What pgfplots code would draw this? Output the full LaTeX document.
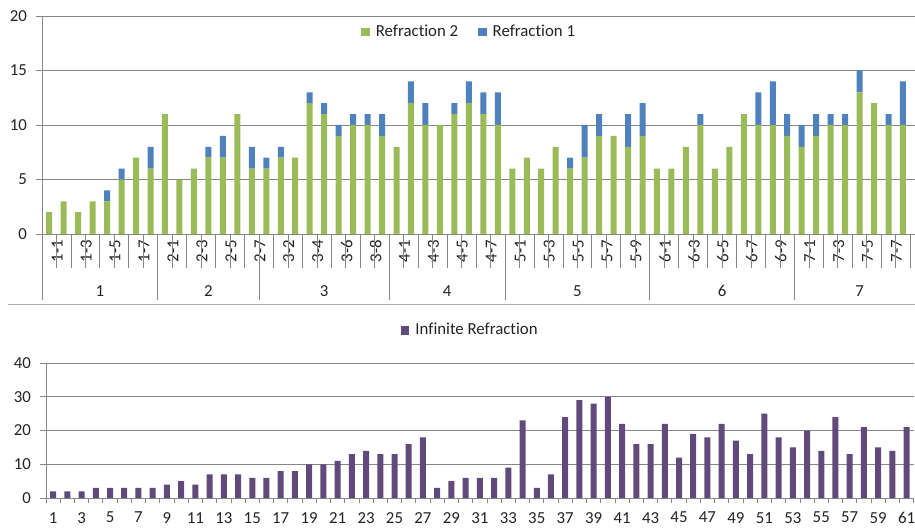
\documentclass[border=0pt]{standalone}
\usepackage{fontspec}
\setmainfont{Carlito}[Ligatures=NoCommon]
\usepackage{pgfplots}
\usepackage{pgfplotstable}
\pgfplotsset{compat=1.18}
\definecolor{rgreen}{RGB}{155,187,89}
\definecolor{rblue}{RGB}{79,129,189}
\definecolor{rpurple}{RGB}{95,74,123}
\definecolor{gridgray}{RGB}{134,134,134}
\definecolor{txt}{RGB}{35,35,35}

\pgfplotstableread{
idx g b
1 2 0
2 3 0
3 2 0
4 3 0
5 3 1
6 5 1
7 7 0
8 6 2
9 11 0
10 5 0
11 6 0
12 7 1
13 7 2
14 11 0
15 6 2
16 6 1
17 7 1
18 7 0
19 12 1
20 11 1
21 9 1
22 10 1
23 10 1
24 9 2
25 8 0
26 12 2
27 10 2
28 10 0
29 11 1
30 12 2
31 11 2
32 10 3
33 6 0
34 7 0
35 6 0
36 8 0
37 6 1
38 7 3
39 9 2
40 9 0
41 8 3
42 9 3
43 6 0
44 6 0
45 8 0
46 10 1
47 6 0
48 8 0
49 11 0
50 10 3
51 10 4
52 9 2
53 8 2
54 9 2
55 10 1
56 10 1
57 13 2
58 12 0
59 10 1
60 10 4
}\toptable

\pgfplotstableread{
idx v
1 2
2 2
3 2
4 3
5 3
6 3
7 3
8 3
9 4
10 5
11 4
12 7
13 7
14 7
15 6
16 6
17 8
18 8
19 10
20 10
21 11
22 13
23 14
24 13
25 13
26 16
27 18
28 3
29 5
30 6
31 6
32 6
33 9
34 23
35 3
36 7
37 24
38 29
39 28
40 30
41 22
42 16
43 16
44 22
45 12
46 19
47 18
48 22
49 17
50 13
51 25
52 18
53 15
54 20
55 14
56 24
57 13
58 21
59 15
60 14
61 21
}\bottable

\pgfplotsset{
  common/.style={
    scale only axis,
    xmin=0.5, xmax=61.5,
    axis lines*=left,
    axis line style={gridgray, line width=0.8pt},
    ymajorgrids,
    grid style={gridgray, line width=0.8pt},
    tick align=outside,
    major tick length=6pt,
    ytick style={draw=gridgray, line width=0.8pt},
    xtick style={draw=none},
    tick label style={text=txt},
    /pgf/number format/assume math mode=true,
    yticklabel style={inner sep=0pt, xshift=-9pt},
    legend style={draw=none, fill=none, text=txt, legend columns=-1,
      /tikz/every odd column/.append style={column sep=4pt},
      /tikz/every even column/.append style={column sep=18pt}},
  }
}

\begin{document}
\fontsize{16.8}{20}\selectfont
\begin{tikzpicture}
\path[use as bounding box] (0pt,0pt) rectangle (915pt,528pt);
\clip (0pt,0pt) rectangle (915pt,528pt);
\draw[gridgray!70, line width=0.8pt] (8pt,224pt) -- (915pt,224pt);

\begin{axis}[common,
  at={(42pt,294pt)}, anchor=south west,
  width=882.7pt, height=218pt,
  ymin=0, ymax=20, ytick={0,5,10,15,20},
  ybar stacked, bar width=6pt,
  xtick={1,3,...,61},
  xticklabels={1-1,1-3,1-5,1-7,2-1,2-3,2-5,2-7,3-2,3-4,3-6,3-8,4-1,4-3,4-5,4-7,5-1,5-3,5-5,5-7,5-9,6-1,6-3,6-5,6-7,6-9,7-1,7-3,7-5,7-7,7-9},
  xticklabel style={rotate=90, anchor=east, inner sep=0pt, yshift=-8pt},
  legend style={at={(0.484,0.927)}, anchor=center},
  clip=false,
]
\addplot[fill=rgreen, draw=none, legend image code/.code={\fill[rgreen] (0pt,-4.5pt) rectangle (8.5pt,4pt);}] table[x=idx, y=g]{\toptable};
\addplot[fill=rblue, draw=none, legend image code/.code={\fill[rblue] (0pt,-4.5pt) rectangle (8.5pt,4pt);}] table[x=idx, y=b]{\toptable};
\legend{Refraction 2, Refraction 1}
\pgfplotsinvokeforeach{0,...,61}{\draw[gridgray, line width=0.8pt] (axis cs:#1.5,0) -- ++(0pt,-34pt);}
\pgfplotsinvokeforeach{0,8,15,24,32,42,52,61}{\draw[gridgray, line width=0.8pt] (axis cs:#1.5,0) -- ++(0pt,-66pt);}
\node[text=txt] at (axis cs:4.5,0) [yshift=-57pt] {1};
\node[text=txt] at (axis cs:12,0) [yshift=-57pt] {2};
\node[text=txt] at (axis cs:20,0) [yshift=-57pt] {3};
\node[text=txt] at (axis cs:28.5,0) [yshift=-57pt] {4};
\node[text=txt] at (axis cs:37.5,0) [yshift=-57pt] {5};
\node[text=txt] at (axis cs:47.5,0) [yshift=-57pt] {6};
\node[text=txt] at (axis cs:57,0) [yshift=-57pt] {7};
\end{axis}

\begin{axis}[common,
  at={(46pt,30pt)}, anchor=south west,
  width=867.7pt, height=135pt,
  ymin=0, ymax=40, ytick={0,10,20,30,40},
  ybar, bar width=6pt, bar shift=0pt,
  xtick={1,3,...,61},
  xticklabel style={inner sep=0pt, yshift=-8pt},
  legend style={at={(0.489,1.244)}, anchor=center},
  clip=false,
]
\addplot[fill=rpurple, draw=none, legend image code/.code={\fill[rpurple] (0pt,-4.5pt) rectangle (8.5pt,4pt);}] table[x=idx, y=v]{\bottable};
\legend{Infinite Refraction}
\pgfplotsinvokeforeach{0,...,61}{\draw[gridgray, line width=0.8pt] (axis cs:#1.5,0) -- ++(0pt,-5pt);}
\end{axis}
\end{tikzpicture}
\end{document}
